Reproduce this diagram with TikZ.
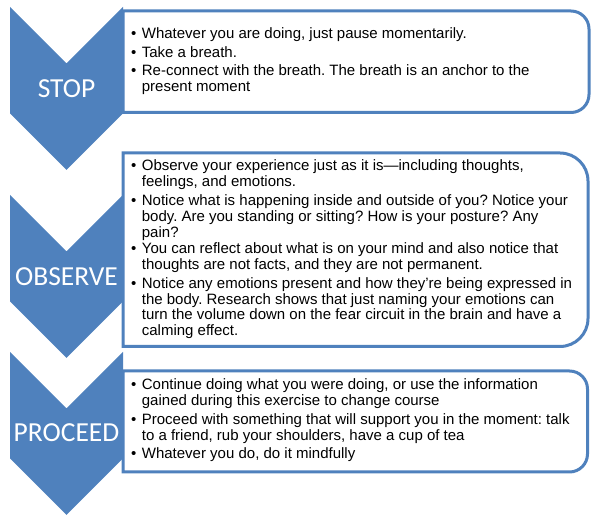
\documentclass[tikz,border=0pt]{standalone}
\usepackage{fontspec}
\setmainfont{Liberation Sans}
\newfontfamily\headfont{Carlito}
\definecolor{chevblue}{RGB}{79,129,189}
\frenchspacing
\newcommand{\blt}[1]{\parbox[t]{480pt}{\raggedright\frenchspacing\noindent\makebox[0pt][r]{\textbullet\hspace{5.5pt}}#1}}
\tikzset{
  chev/.style={fill=chevblue, draw=none},
  listbox/.style={draw=chevblue, line width=3pt, fill=white},
  head/.style={text=white, font=\headfont\fontsize{27.5}{30}\selectfont, inner sep=0pt, anchor=center},
  itm/.style={anchor=base west, inner sep=0pt, text=black, font=\fontsize{15}{15.8}\selectfont},
}
\begin{document}
\begin{tikzpicture}[x=1pt,y=-1pt]
\useasboundingbox (0,0) rectangle (598,521);
% boxes
\draw[listbox] (123,11) -- (571,11) arc[start angle=-90,end angle=0,radius=18] -- (589,94.5) arc[start angle=0,end angle=90,radius=18] -- (123,112.5) -- cycle;
\draw[listbox] (123,153) -- (560,153) arc[start angle=-90,end angle=0,radius=28] -- (588,318.5) arc[start angle=0,end angle=90,radius=28] -- (123,346.5) -- cycle;
\draw[listbox] (123,371) -- (569.5,371) arc[start angle=-90,end angle=0,radius=18] -- (587.5,454) arc[start angle=0,end angle=90,radius=18] -- (123,472) -- cycle;
% chevrons
\fill[chev] (10,7) -- (66.5,63.5) -- (123,7) -- (123,113.5) -- (66.5,170) -- (10,113.5) -- cycle;
\fill[chev] (10,195) -- (66.5,251.5) -- (123,195) -- (123,301.5) -- (66.5,358) -- (10,301.5) -- cycle;
\fill[chev] (10,352) -- (66.5,408.5) -- (123,352) -- (123,458.5) -- (66.5,515) -- (10,458.5) -- cycle;
% headings
\node[head] (stop) at (66.5,88.5) {STOP};
\node[head] (observe) at (66.5,276.5) {OBSERVE};
\node[head] (proceed) at (66.5,433) {PROCEED};
% box 1
\node[itm] (s1) at (141.7,39) {\blt{Whatever you are doing, just pause momentarily.}};
\node[itm] (s2) at (141.7,58) {\blt{Take a breath.}};
\node[itm] (s3) at (141.7,76) {\blt{Re-connect with the breath. The breath is an anchor to the\\present moment}};
% box 2
\node[itm] (o1) at (141.7,171) {\blt{Observe your experience just as it is—including thoughts,\\feelings, and emotions.}};
\node[itm] (o2) at (141.7,205.5) {\blt{Notice what is happening inside and outside of you? Notice your\\body. Are you standing or sitting? How is your posture? Any\\pain?}};
\node[itm] (o3) at (141.7,254) {\blt{You can reflect about what is on your mind and also notice that\\thoughts are not facts, and they are not permanent.}};
\node[itm] (o4) at (141.7,288.3) {\blt{Notice any emotions present and how they’re being expressed in\\the body. Research shows that just naming your emotions can\\turn the volume down on the fear circuit in the brain and have a\\calming effect.}};
% box 3
\node[itm] (p1) at (141.7,390) {\blt{Continue doing what you were doing, or use the information\\gained during this exercise to change course}};
\node[itm] (p2) at (141.7,425) {\blt{Proceed with something that will support you in the moment: talk\\to a friend, rub your shoulders, have a cup of tea}};
\node[itm] (p3) at (141.7,459) {\blt{Whatever you do, do it mindfully}};
\end{tikzpicture}
\end{document}
